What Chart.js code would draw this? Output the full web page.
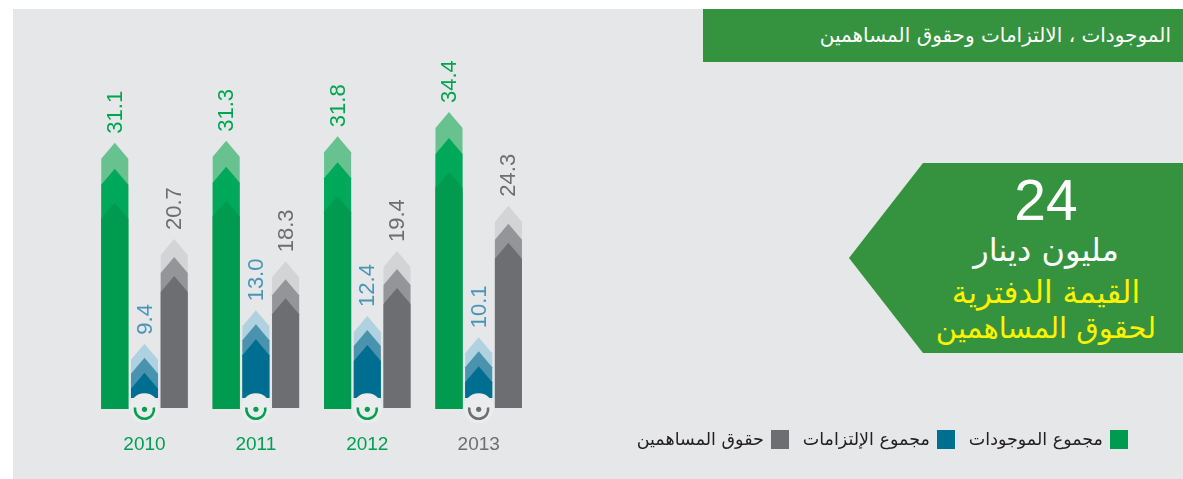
<!DOCTYPE html>
<html>
<head>
<meta charset="utf-8">
<script src="https://cdn.jsdelivr.net/npm/chart.js@4.4.1/dist/chart.umd.min.js"></script>
<style>
  html, body { margin: 0; padding: 0; width: 1183px; height: 479px; overflow: hidden; background: #fff; font-family: 'DejaVu Sans', sans-serif; }
  #panel { position: absolute; left: 13px; top: 9px; right: 0; bottom: 0; background: #e6e7e8; }
  #chart { position: absolute; left: 0; top: 0; }
  #title { position: absolute; left: 703px; top: 9px; width: 480px; height: 53px; background: #35923f; color: #fff;
           direction: rtl; text-align: right; box-sizing: border-box; padding-right: 12px; font-size: 20px; line-height: 53px; }
  #badge { position: absolute; left: 849px; top: 163px; width: 334px; height: 190px; background: #35923f;
           clip-path: polygon(74px 0, 100% 0, 100% 100%, 74px 100%, 0 50%); }
  #badge div { position: absolute; left: 87px; width: 220px; text-align: center; white-space: nowrap; direction: rtl; line-height: 1.15; }
  #big { top: 5px; font: 57px 'Liberation Sans', Arial, sans-serif; color: #fff; }
  #unit { top: 69px; font-size: 32px; color: #fff; }
  #sub1 { top: 112px; font-size: 31px; color: #fff200; }
  #sub2 { top: 149px; font-size: 29px; color: #fff200; }
  #legend { position: absolute; right: 55px; top: 429px; display: flex; direction: rtl; align-items: center; font-size: 17.5px; color: #231f20; }
  #legend .sw { display: inline-block; width: 18px; height: 19px; margin-left: 7px; }
  #legend .item { display: flex; align-items: center; margin-left: 14px; }
</style>
</head>
<body>
<div id="panel"></div>
<canvas id="chart" width="660" height="479"></canvas>
<div id="title">الموجودات ، الالتزامات وحقوق المساهمين</div>
<div id="badge">
  <div id="big">24</div>
  <div id="unit">مليون دينار</div>
  <div id="sub1">القيمة الدفترية</div>
  <div id="sub2">لحقوق المساهمين</div>
</div>
<div id="legend"></div>
<script>
const years = ['2010', '2011', '2012', '2013'];
const totalAssets = [31.1, 31.3, 31.8, 34.4];
const totalLiabilities = [9.4, 13.0, 12.4, 10.1];
const equity = [20.7, 18.3, 19.4, 24.3];
const seriesNames = ['مجموع الموجودات', 'مجموع الإلتزامات', 'حقوق المساهمين'];

// looks
const shades = [
  ['#67c28f', '#00a859', '#009b4e'],
  ['#b0d1e0', '#4993ae', '#006e91'],
  ['#d3d4d6', '#939598', '#6d6e71']
];
const stepOffsets = [[0, 26, 60], [0, 14, 29], [0, 18, 37]];
const bottomLift = [21.7, 32.7, 22.7];
const labelColors = ['#00a551', '#4a95b6', '#6d6e71'];
const yearColors = ['#00a04f', '#00a04f', '#00a04f', '#6d6e71'];
const tipH = 16;

const arrowBars = {
  id: 'arrowBars',
  afterDatasetsDraw(chart) {
    const ctx = chart.ctx;
    const bottom = chart.chartArea.bottom;
    chart.data.datasets.forEach((ds, di) => {
      chart.getDatasetMeta(di).data.forEach((bar, i) => {
        const x = bar.x, l = x - bar.width / 2, r = x + bar.width / 2;
        const base = bottom - bottomLift[di];
        shades[di].forEach((c, k) => {
          const t = bar.y + stepOffsets[di][k];
          ctx.beginPath();
          ctx.moveTo(x, t);
          ctx.lineTo(r, t + tipH);
          ctx.lineTo(r, base);
          ctx.lineTo(l, base);
          ctx.lineTo(l, t + tipH);
          ctx.closePath();
          ctx.fillStyle = c;
          ctx.fill();
        });
        // value, rotated
        ctx.save();
        ctx.translate(x, bar.y - 9);
        ctx.rotate(-Math.PI / 2);
        ctx.font = '22px "Liberation Sans", Arial, sans-serif';
        ctx.fillStyle = labelColors[di];
        ctx.textAlign = 'left';
        ctx.textBaseline = 'middle';
        ctx.fillText(ds.data[i].toFixed(1), 0, 1);
        ctx.restore();
      });
    });

    // round badge under the liabilities bar
    chart.getDatasetMeta(1).data.forEach((bar, i) => {
      const cx = bar.x, cy = bottom - 22.5;
      ctx.beginPath();
      ctx.arc(cx, cy, 15, 0, Math.PI * 2);
      ctx.fillStyle = '#ebeced';
      ctx.fill();
      ctx.fillStyle = yearColors[i];
      ctx.beginPath();
      ctx.arc(cx, cy + 1, 2.6, 0, Math.PI * 2);
      ctx.fill();
      ctx.strokeStyle = yearColors[i];
      ctx.lineWidth = 2.6;
      ctx.beginPath();
      ctx.arc(cx, cy + 1, 9.5, -0.06 * Math.PI, 1.06 * Math.PI);
      ctx.stroke();
    });
  }
};

new Chart(document.getElementById('chart'), {
  type: 'bar',
  data: {
    labels: years,
    datasets: [
      { label: seriesNames[0], data: totalAssets, backgroundColor: 'transparent' },
      { label: seriesNames[1], data: totalLiabilities, backgroundColor: 'transparent' },
      { label: seriesNames[2], data: equity, backgroundColor: 'transparent' }
    ]
  },
  options: {
    responsive: false,
    animation: false,
    layout: { padding: { left: 88.8, right: 125.6, top: 60.2, bottom: 19.4 } },
    datasets: { bar: { categoryPercentage: 0.8, barPercentage: 0.91 } },
    plugins: { legend: { display: false }, tooltip: { enabled: false } },
    scales: {
      x: {
        grid: { display: false, drawTicks: false },
        border: { display: false },
        ticks: { color: c => yearColors[c.index], font: { size: 19, family: "'Liberation Sans', Arial, sans-serif" }, padding: 3 }
      },
      y: { display: false, min: 0, max: 40 }
    }
  },
  plugins: [arrowBars]
});

// legend
const lg = document.getElementById('legend');
lg.innerHTML = seriesNames.map((n, i) =>
  `<span class="item"><span class="sw" style="background:${shades[i][2]}"></span><span>${n}</span></span>`
).join('');
</script>
</body>
</html>
